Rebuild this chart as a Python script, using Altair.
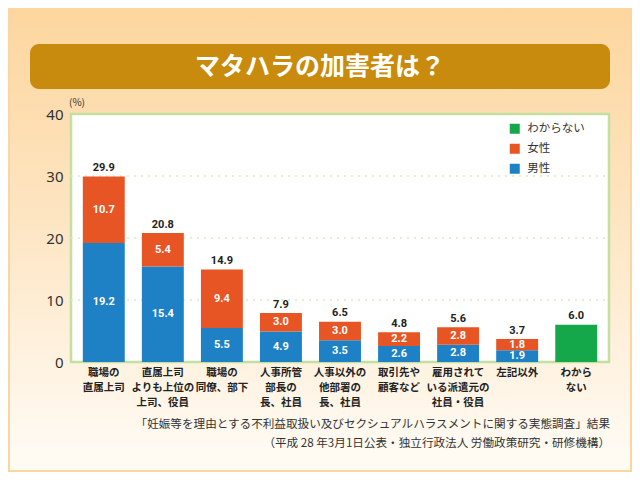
import altair as alt
import pandas as pd

# ---------------- data ----------------
categories = [
    "職場の\n直属上司",
    "直属上司\nよりも上位の\n上司、役員",
    "職場の\n同僚、部下",
    "人事所管\n部長の\n長、社員",
    "人事以外の\n他部署の\n長、社員",
    "取引先や\n顧客など",
    "雇用されて\nいる派遣元の\n社員・役員",
    "左記以外",
    "わから\nない",
]
male = [19.2, 15.4, 5.5, 4.9, 3.5, 2.6, 2.8, 1.9, None]
female = [10.7, 5.4, 9.4, 3.0, 3.0, 2.2, 2.8, 1.8, None]
unknown = [None, None, None, None, None, None, None, None, 6.0]
totals = [29.9, 20.8, 14.9, 7.9, 6.5, 4.8, 5.6, 3.7, 6.0]

series = ["わからない", "女性", "男性"]
colors = ["#14a84b", "#e85524", "#1e80c5"]
y_ticks = [0, 10, 20, 30, 40]
grid_values = [10, 20, 30]

title_text = "マタハラの加害者は？"
unit_text = "(%)"
source_lines = [
    "「妊娠等を理由とする不利益取扱い及びセクシュアルハラスメントに関する実態調査」結果",
    "（平成 28 年3月1日公表・独立行政法人 労働政策研究・研修機構）",
]

# ---------------- tables ----------------
rows = []
for c, m, f, u in zip(categories, male, female, unknown):
    if m is not None:
        rows.append({"cat": c, "sex": "男性", "value": m, "ord": 0})
    if f is not None:
        rows.append({"cat": c, "sex": "女性", "value": f, "ord": 1})
    if u is not None:
        rows.append({"cat": c, "sex": "わからない", "value": u, "ord": 2})
df = pd.DataFrame(rows)
df_tot = pd.DataFrame({"cat": categories, "total": totals})
df_cat = pd.DataFrame({"cat": categories})
df_grid = pd.DataFrame({"v": grid_values})
one = pd.DataFrame({"a": [0]})

W, H = 538, 248
PAD_L, PAD_T, PAD_R, PAD_B = 63, 106, 23, 110
NUM_FONT = "Roboto"
JP_FONT = "Noto Sans CJK JP"

x_scale = alt.Scale(domain=categories, paddingInner=0.29, paddingOuter=0.2)
x_enc = alt.X("cat:N", scale=x_scale, axis=None)
y_scale = alt.Scale(domain=[0, 40], nice=False)

# ---------------- layers ----------------
bg = alt.Chart(one).mark_rect(
    color=alt.Gradient(
        gradient="linear",
        stops=[
            alt.GradientStop(color="#fdd69e", offset=0),
            alt.GradientStop(color="#fde5c2", offset=0.45),
            alt.GradientStop(color="#fffaf2", offset=0.95),
        ],
        x1=0, x2=0, y1=0, y2=1,
    ),
    stroke="#fcd6a0",
    strokeWidth=4,
).encode(
    x=alt.value(-PAD_L), x2=alt.value(W + PAD_R),
    y=alt.value(-PAD_T), y2=alt.value(H + PAD_B),
)

banner = alt.Chart(one).mark_rect(color="#c88b0d", cornerRadius=9).encode(
    x=alt.value(-41), x2=alt.value(539), y=alt.value(-70), y2=alt.value(-25)
)
title = alt.Chart(pd.DataFrame({"t": [title_text]})).mark_text(
    color="white", fontSize=25, fontWeight="bold", font=JP_FONT, baseline="middle"
).encode(x=alt.value(249), y=alt.value(-47.5), text="t:N")

frame = alt.Chart(one).mark_rect(fill="white", stroke="#c4df9f", strokeWidth=2.5).encode(
    x=alt.value(0), x2=alt.value(W), y=alt.value(0), y2=alt.value(H)
)

grid = alt.Chart(df_grid).mark_rule(color="#d9ebc4", strokeWidth=1.5, strokeDash=[2, 5]).encode(
    y=alt.Y("v:Q", scale=y_scale), x=alt.value(0), x2=alt.value(W)
)

y_enc = alt.Y(
    "value:Q",
    stack="zero",
    scale=y_scale,
    axis=alt.Axis(
        values=y_ticks, grid=False, ticks=False, domain=False, labelFontSize=15,
        labelColor="#333333", labelPadding=8, title=None, zindex=1, labelFont="Noto Sans",
    ),
)

bars = alt.Chart(df).mark_bar().encode(
    x=x_enc,
    y=y_enc,
    color=alt.Color(
        "sex:N",
        scale=alt.Scale(domain=series, range=colors),
        legend=alt.Legend(
            title=None, orient="none", legendX=438, legendY=9, symbolType="square",
            symbolSize=100, symbolStrokeWidth=0, labelFontSize=11.5, labelFont=JP_FONT,
            labelColor="#333333", labelOffset=6.7, rowPadding=7, padding=0,
        ),
    ),
    order=alt.Order("ord:Q"),
)

inner = (
    alt.Chart(df)
    .transform_filter("datum.sex != 'わからない'")
    .transform_stack(stack="value", groupby=["cat"], as_=["y0", "y1"],
                     sort=[alt.SortField("ord", "ascending")])
    .transform_calculate(mid="(datum.y0 + datum.y1) / 2")
    .mark_text(color="white", fontSize=11, fontWeight="bold", font=NUM_FONT, baseline="middle")
    .encode(x=x_enc, y=alt.Y("mid:Q", scale=y_scale), text=alt.Text("value:Q", format=".1f"))
)

tot = alt.Chart(df_tot).mark_text(
    color="#222222", fontSize=11, fontWeight="bold", font=NUM_FONT, baseline="middle", dy=-8.5
).encode(x=x_enc, y=alt.Y("total:Q", scale=y_scale), text=alt.Text("total:Q", format=".1f"))

catlab = alt.Chart(df_cat).mark_text(
    color="#222222", fontSize=10.5, fontWeight="bold", font=JP_FONT, baseline="top",
    lineBreak="\n", lineHeight=15,
).encode(x=x_enc, y=alt.value(254), text="cat:N")

unit = alt.Chart(pd.DataFrame({"t": [unit_text]})).mark_text(
    color="#333333", fontSize=10, font=JP_FONT, align="left", baseline="middle"
).encode(x=alt.value(-2), y=alt.value(-11), text="t:N")

source = alt.Chart(pd.DataFrame({"t": ["\n".join(source_lines)]})).mark_text(
    color="#333333", fontSize=11.6, font=JP_FONT, align="right", baseline="top",
    lineBreak="\n", lineHeight=19,
).encode(x=alt.value(539), y=alt.value(305), text="t:N")

chart = (
    alt.layer(bg, banner, title, frame, grid, bars, inner, tot, catlab, unit, source)
    .properties(
        width=W, height=H, autosize="none",
        padding={"left": PAD_L, "top": PAD_T, "right": PAD_R, "bottom": PAD_B},
        background="#fde3bb",
    )
    .configure_view(stroke=None)
)

chart.save("out.html", embed_options={"renderer": "svg", "actions": False})
